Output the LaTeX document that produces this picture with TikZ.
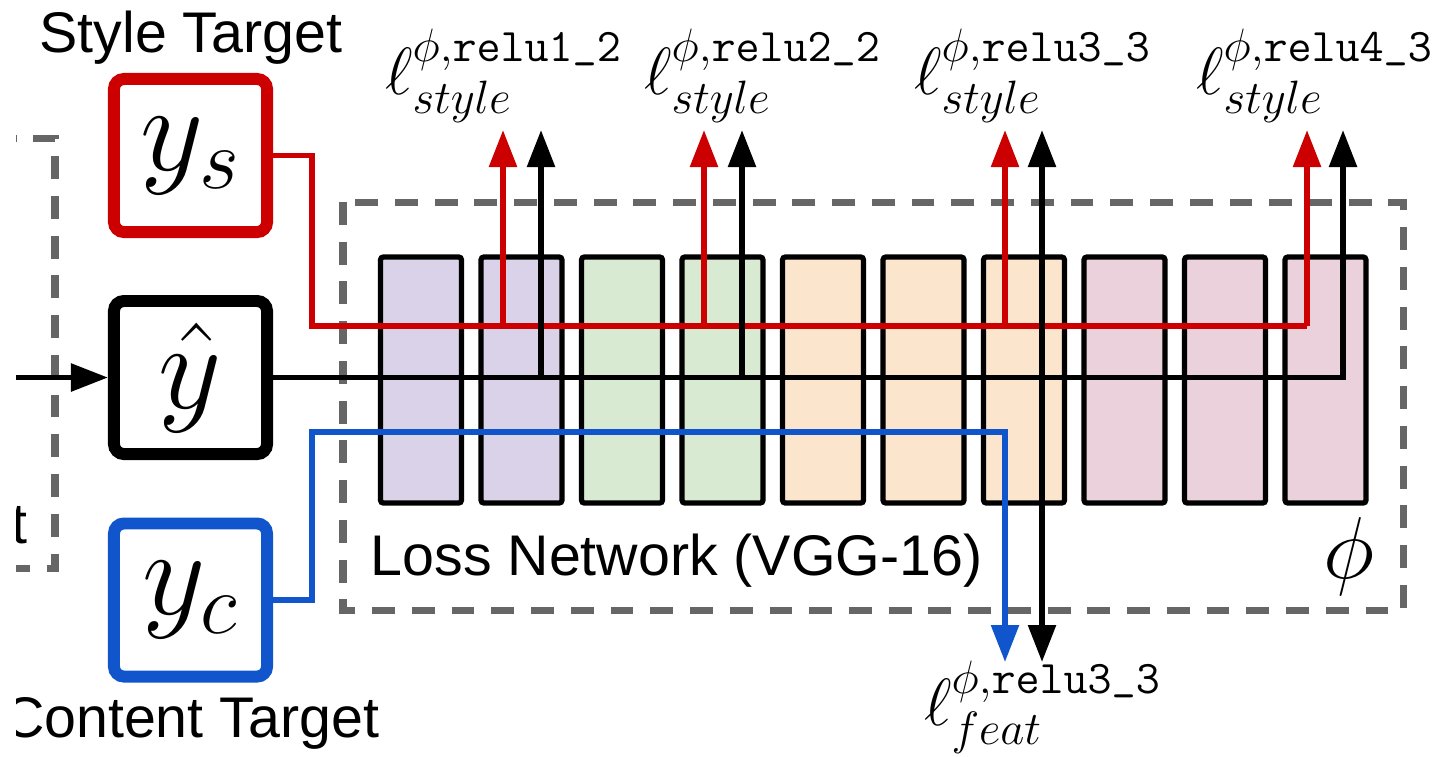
\RequirePackage{fix-cm}
\documentclass[tikz,border=0pt]{standalone}
\usepackage{amsmath}
\usepackage{fontspec}
\setsansfont{Liberation Sans}
\usetikzlibrary{arrows.meta, positioning, calc}

\definecolor{stylered}{HTML}{CC0000}
\definecolor{contentblue}{HTML}{1155CC}
\definecolor{dashgray}{HTML}{666666}
\definecolor{lpurple}{HTML}{D9D2E9}
\definecolor{lgreen}{HTML}{D9EAD3}
\definecolor{lorange}{HTML}{FCE5CD}
\definecolor{lpink}{HTML}{EAD1DC}

% typewriter layer name, e.g. relu3_3
\newcommand{\layername}[2]{\text{\fontencoding{OT1}\fontfamily{cmtt}\selectfont relu#1\char95\relax#2}}

\begin{document}
\begin{tikzpicture}[x=0.01cm, y=-0.01cm,
    target/.style={rectangle, draw, line width=3.4pt, rounded corners=1mm, minimum size=1.53cm, inner sep=0pt, font=\fontsize{35}{40}\selectfont},
    convblock/.style={rectangle, draw, line width=1.5pt, rounded corners=0.3mm, minimum width=0.81cm, minimum height=2.46cm, inner sep=0pt},
    wire/.style={line width=1.6pt},
    sig/.style={-{Triangle[length=3.7mm, width=2.7mm]}},
    lbl/.style={font=\sffamily\fontsize{16.3}{18}\selectfont, inner sep=0pt},
    loss/.style={font=\fontsize{19}{21}\selectfont, inner sep=0pt},
    netbox/.style={draw=dashgray, line width=2pt, dash pattern=on 6.5pt off 4.8pt}]
    \useasboundingbox (0,0) rectangle (1449,756);
    \clip (16,0) rectangle (1449,756);

    % transform net (left, cut off)
    \draw[netbox] (-40,138) rectangle (55,568);
    \node[lbl, anchor=base east] (tnet) at (28,543) {t};

    % targets and output
    \node[target, draw=stylered] (ys) at (190.5,155.5) {$y_s$};
    \node[target] (yhat) at (190.5,377.5) {$\hat{y}$};
    \node[target, draw=contentblue] (yc) at (190.5,600) {$y_c$};
    \node[lbl, anchor=base] (stylelbl) at (191,52) {Style Target};
    \node[lbl, anchor=base] (contentlbl) at (191,737) {Content Target};
    \coordinate (in) at (16,377.5);
    \draw[wire, sig] (in) -- (yhat);

    % loss network
    \draw[netbox] (343,202) rectangle (1403,610);
    \node[lbl, anchor=base west] (vgglbl) at (370,575) {Loss Network (VGG-16)};
    \node[font=\fontsize{25}{28}\selectfont, inner sep=0pt] (phi) at (1349,556) {$\phi$};
    \foreach \c [count=\i] in {lpurple,lpurple,lgreen,lgreen,lorange,lorange,lorange,lpink,lpink,lpink}
        \node[convblock, fill=\c] (b\i) at ({421+100.5*(\i-1)},380) {};

    % style taps
    \draw[wire, stylered] (ys.east) -- (312,155.5) -- (312,326) -- (1307,326);
    \foreach \x in {503,704,1005,1307}
        \draw[wire, stylered, sig] (\x,326) -- (\x,130);

    % feature taps
    \draw[wire, sig] (yhat.east) -- (1343,377.5) -- (1343,130);
    \foreach \x in {541,742,1042}
        \draw[wire, sig] (\x,377.5) -- (\x,130);
    \draw[wire, sig] (1042,377.5) -- (1042,662);

    % content path
    \draw[wire, contentblue, sig] (yc.east) -- (312,600) -- (312,432) -- (1005,432) -- (1005,662);

    % loss terms
    \node[loss, anchor=south] (l1) at (504,123) {$\ell^{\phi,\layername{1}{2}}_{style}$};
    \node[loss, anchor=south] (l2) at (763,123) {$\ell^{\phi,\layername{2}{2}}_{style}$};
    \node[loss, anchor=south] (l3) at (1033,123) {$\ell^{\phi,\layername{3}{3}}_{style}$};
    \node[loss, anchor=south] (l4) at (1315,123) {$\ell^{\phi,\layername{4}{3}}_{style}$};
    \node[loss, anchor=north] (lfeat) at (1043,660) {$\ell^{\phi,\layername{3}{3}}_{feat}$};
\end{tikzpicture}
\end{document}
